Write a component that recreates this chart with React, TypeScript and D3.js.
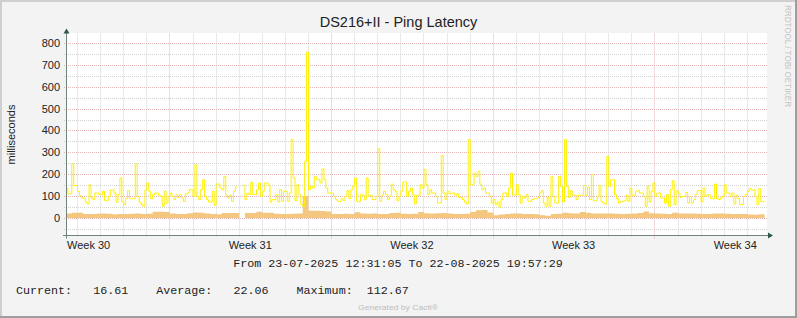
import React from 'react';
import * as d3 from 'd3';

// ---------- data ----------
const TITLE = 'DS216+II - Ping Latency';
const Y_LABEL = 'milliseconds';
const WATERMARK = 'RRDTOOL / TOBI OETIKER';
const FOOTER = 'Generated by Cacti®';

const START = Date.UTC(2025, 6, 23, 12, 31, 5);
const END = Date.UTC(2025, 7, 22, 19, 57, 29);

const LINE_STEP_SEC = 7200; // 2 h samples
const AREA_STEP_SEC = 21600; // 6 h samples

const yTickValues = [0, 100, 200, 300, 400, 500, 600, 700, 800];
const yMinorValues = [-50, 50, 150, 250, 350, 450, 550, 650, 750];

// peak latency (yellow line), one value per 2 h
const peakLatency: (number | null)[] = [
  // week 30 .. early week 31
  137, 110, 110, 247, 148, 148, 122, 102, 91, 91,
  73, 64, 152, 91, 84, 114, 114, 107, 107, 122,
  79, 79, 99, 128, 128, 114, 72, 107, 183, 73,
  61, 88, 125, 88, 88, 88, 247, 99, 72, 61,
  53, 129, 160, 122, 88, 107, 114, 114, 104, 99,
  53, 122, 68, 99, 114, 99, 84, 107, 94, 107,
  91, 76, 110, 114, 129, 129, 99, 243, 99, 84,
  129, 175, 99, 84, 73, 73, 122, 58, 155, 155,
  137, 129, 190, 104, 91, 104, 76, 122, 142, null,
  null, null, 149, 84, 114, 107, 163, 107, 107, 129,
  160, 99, 122, 160, 160, 149, 73, 84, 84, 107,
  73, 129, 76, 122, 122, 76, 114, 358, 183, 79,
  152, 107,
  // week 31 .. week 33
  61, 53, 259, 758, 129, 145, 137, 190, 175, 175,
  160, 224, 175, 137, 114, 114, 114, 99, 84, 76,
  76, 88, 79, 99, 125, 88, 129, 145, 183, 76,
  76, 107, 104, 84, 183, 99, 104, 84, 84, 99,
  317, 76, 104, 122, 107, 84, 99, 155, 129, 122,
  79, 99, 122, 164, 164, 99, 122, 137, 107, 64,
  104, 104, 152, 137, 221, 152, 107, 129, 114, 114,
  99, 68, 68, 285, 114, 84, 122, 110, 114, 114,
  104, 110, 94, 94, 84, 73, 64, 358, 152, 152,
  205, 190, 213, 155, 129, 137, 114, 114, 99, 68,
  84, 61, 73, 49, 84, 114, 114, 99, 137, 205,
  104, 104, 152, 107, 68, 99, 91, 107, 76, 76,
  84, 88, 88,
  // week 33 .. week 34
  94, 114, 125, 68, 53, 94, 53, 190, 99, 68,
  68, 190, 145, 73, 358, 145, 94, 125, 104, 104,
  84, 104, 104, 104, 149, 104, 140, 84, 198, 79,
  79, 99, 148, 76, 68, 64, 282, 145, 175, 175,
  107, 88, 68, 76, 76, 79, 104, 76, 137, 104,
  104, 122, 125, 114, 114, 99, 53, 145, 73, 122,
  160, 99, 114, 114, 91, 91, 68, 107, 53, 129,
  170, 61, 125, 114, 94, 99, 99, 117, 68, 99,
  68, 84, 107, 125, 125, 73, 137, 99, 107, 104,
  88, 88, 155, 88, 84, 91, 99, 152, 114, 114,
  99, 114, 64, 104, 88, 61, 61, 99, 107, 122,
  134, 128, 128, 99, 61, 134, 76, 76,
];

// average latency (orange area), one value per 6 h
const avgLatency: (number | null)[] = [
  20, 24, 24, 18, 18, 19, 20, 19, 17, 18,
  18, 19, 20, 18, 19, 28, 29, 27, 21, 18,
  18, 22, 25, 24, 20, 18, 17, 23, 23, 23,
  null, 23, 23, 28, 24, 24, 19, 18, 18, 19,
  20, 100, 33, 33, 32, 30, 18, 18, 19, 18,
  26, 20, 19, 20, 18, 18, 23, 24, 19, 18,
  19, 27, 22, 20, 22, 23, 21, 18, 18, 19,
  27, 35, 36, 25, 12, 16, 18, 21, 21, 18,
  18, 17, 13, 10, 18, 19, 24, 22, 21, 27,
  24, 21, 21, 20, 20, 19, 18, 19, 21, 23,
  30, 22, 21, 19, 18, 24, 21, 20, 20, 19,
  18, 18, 20, 21, 19, 18, 18, 18, 16, 15,
  16.61,
];

const legendLabels = ['Current:', 'Average:', 'Maximum:'];
const legendValues = [16.61, 22.06, 112.67];

// ---------- layout ----------
const W = 797;
const H = 318;
const PL = 66;
const PR = 766;
const PT = 33.5;
const PB = 235.5;

const SANS = '"Liberation Sans", Arial, sans-serif';
const MONO = '"Liberation Mono", "Courier New", monospace';

const crisp = (v: number) => Math.round(v) + 0.5;

function stepPoints(values: (number | null)[], stepSec: number) {
  const pts: { t: Date; v: number | null }[] = [];
  values.forEach((v, i) => {
    const t0 = new Date(START + i * stepSec * 1000);
    const t1 = new Date(START + (i + 1) * stepSec * 1000);
    pts.push({ t: t0, v });
    pts.push({ t: t1, v });
  });
  return pts;
}

export default function App() {
  const x = d3.scaleUtc().domain([new Date(START), new Date(END)]).range([PL, PR]);
  const y = d3.scaleLinear().domain([-80, 843]).range([PB, PT]);

  const days = d3.utcDay.range(new Date(START), new Date(END));
  const mondays = d3.utcMonday.range(new Date(START), new Date(END));
  const mondaySet = new Set(mondays.map((d) => +d));
  const minorDays = days.filter((d) => !mondaySet.has(+d));
  const weekStarts = d3.utcMonday.range(d3.utcMonday.floor(new Date(START)), new Date(END));
  const weekLabels = weekStarts
    .map((m) => ({ c: new Date(+m + 3.5 * 86400000), label: 'Week ' + +d3.utcFormat('%V')(m) }))
    .filter((w) => +w.c >= START && +w.c <= END);

  const linePts = stepPoints(peakLatency, LINE_STEP_SEC);
  const areaPts = stepPoints(avgLatency, AREA_STEP_SEC);

  const lineGen = d3
    .line<{ t: Date; v: number | null }>()
    .defined((d) => d.v != null)
    .x((d) => x(d.t))
    .y((d) => y(d.v as number));
  const areaGen = d3
    .area<{ t: Date; v: number | null }>()
    .defined((d) => d.v != null)
    .x((d) => x(d.t))
    .y0(() => y(0))
    .y1((d) => y(d.v as number));

  const fmt = d3.utcFormat('%d-%m-%Y %H:%M:%S');
  const fromText = `From ${fmt(new Date(START))} To ${fmt(new Date(END))}`;
  const legendText = legendLabels
    .map((l, i) => l + legendValues[i].toFixed(2).padStart(8))
    .join('    ');

  const minorColor = '#D2D2D2';
  const majorColor = '#E2B4B4';

  return (
    <div style={{ position: 'absolute', left: 0, top: 0 }}>
      <svg width={W} height={H} viewBox={`0 0 ${W} ${H}`} style={{ display: 'block' }}>
        {/* canvas */}
        <rect x={0} y={0} width={W} height={H} fill="#F3F3F3" />
        <line x1={0} y1={1} x2={W} y2={1} stroke="#CFCFCF" strokeWidth={2} />
        <line x1={1} y1={0} x2={1} y2={H} stroke="#CFCFCF" strokeWidth={2} />
        <line x1={0} y1={H - 1} x2={W} y2={H - 1} stroke="#9E9E9E" strokeWidth={2} />
        <line x1={W - 1} y1={0} x2={W - 1} y2={H} stroke="#9E9E9E" strokeWidth={2} />

        {/* plot background */}
        <rect x={PL} y={33} width={PR - PL + 1} height={PB - 33} fill="#FFFFFF" />

        {/* horizontal grid */}
        {yMinorValues.map((v) => (
          <line key={'hm' + v} x1={PL - 2} x2={PR + 2} y1={crisp(y(v))} y2={crisp(y(v))}
            stroke={minorColor} strokeWidth={1} strokeDasharray="1,1" />
        ))}
        {yTickValues.map((v) => (
          <line key={'hM' + v} x1={PL - 2} x2={PR + 2} y1={crisp(y(v))} y2={crisp(y(v))}
            stroke={majorColor} strokeWidth={1} strokeDasharray="1,1" />
        ))}
        {/* vertical grid */}
        {minorDays.map((d) => (
          <line key={'vm' + +d} x1={crisp(x(d))} x2={crisp(x(d))} y1={PT} y2={PB + 2}
            stroke={minorColor} strokeWidth={1} strokeDasharray="1,1" />
        ))}
        {mondays.map((d) => (
          <line key={'vM' + +d} x1={crisp(x(d))} x2={crisp(x(d))} y1={PT} y2={PB + 3}
            stroke={majorColor} strokeWidth={1} strokeDasharray="1,1" />
        ))}

        {/* data */}
        <path d={areaGen(areaPts) || ''} fill="#F3C77F" stroke="none" />
        <path d={lineGen(linePts) || ''} fill="none" stroke="#FFF000" strokeWidth={1} />

        {/* axes */}
        <line x1={PL - 3} x2={PR + 2} y1={PB} y2={PB} stroke="#6E847A" strokeWidth={1} />
        <line x1={PL + 0.5} x2={PL + 0.5} y1={PB + 3} y2={PT - 1} stroke="#6E847A" strokeWidth={1} />
        <path d={`M${PR + 2},${PB - 3}L${PR + 7},${PB}L${PR + 2},${PB + 3}Z`} fill="#2F5A4A" />
        <path d={`M${PL - 2.5},${PT}L${PL + 0.5},${PT - 5}L${PL + 3.5},${PT}Z`} fill="#2F5A4A" />

        {/* y tick labels */}
        {yTickValues.map((v) => (
          <text key={'yl' + v} x={60} y={y(v)} dy="0.36em" textAnchor="end"
            fontFamily={SANS} fontSize={11} fill="#222">{v}</text>
        ))}
        {/* x tick labels */}
        {weekLabels.map((w) => (
          <text key={w.label} x={x(w.c)} y={249} textAnchor="middle"
            fontFamily={SANS} fontSize={11} fill="#222">{w.label}</text>
        ))}

        {/* titles */}
        <text x={398.5} y={27} textAnchor="middle" fontFamily={SANS} fontSize={14.5} fill="#222">{TITLE}</text>
        <text transform={`translate(15,${(PT + PB) / 2}) rotate(-90)`} textAnchor="middle"
          fontFamily={SANS} fontSize={11} fill="#222">{Y_LABEL}</text>
        <text transform="translate(785,5) rotate(90)" textAnchor="start" fontFamily={SANS}
          fontSize={9} fill="#C4C4C4" textLength={102} lengthAdjust="spacingAndGlyphs">{WATERMARK}</text>

        {/* legend */}
        <text x={398} y={266.5} textAnchor="middle" fontFamily={MONO} fontSize={11.7} fill="#222"
          style={{ whiteSpace: 'pre' }}>{fromText}</text>
        <text x={16} y={294} fontFamily={MONO} fontSize={11.7} fill="#222"
          style={{ whiteSpace: 'pre' }}>{legendText}</text>
        <text x={398} y={310} textAnchor="middle" fontFamily={SANS} fontSize={8} fill="#BDBDBD"
          textLength={80} lengthAdjust="spacingAndGlyphs">{FOOTER}</text>
      </svg>
    </div>
  );
}
